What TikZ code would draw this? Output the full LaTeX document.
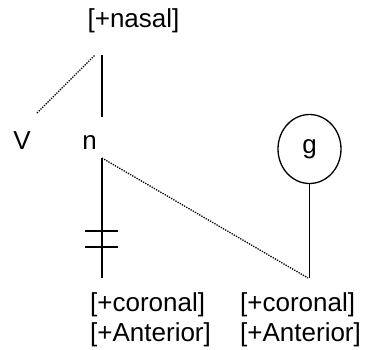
\documentclass[tikz,border=0pt]{standalone}
\usepackage{fontspec}
\setmainfont{Liberation Sans}
\usetikzlibrary{shapes.geometric}

\begin{document}
\begin{tikzpicture}[x=1pt,y=-1pt,
  seg/.style={inner sep=0pt,font=\fontsize{26}{30}\selectfont},
  assoc/.style={line width=1.7pt},
  spread/.style={line width=1.3pt,dash pattern=on 1.3pt off 1.2pt}]
\useasboundingbox (0,0) rectangle (367,349);
% features and segments
\node[seg,anchor=base] (nasal) at (133.5,27) {[+nasal]};
\node[seg,anchor=base] (v) at (22,149) {V};
\node[seg,anchor=base] (n) at (89.5,149) {n};
\node[seg,draw,ellipse,line width=1.3pt,minimum width=63pt,minimum height=69pt] (g) at (309.5,149) {g};
\node[seg,anchor=base west] (lcor) at (90,311) {[+coronal]};
\node[seg,anchor=base west] (lant) at (90,341) {[+Anterior]};
\node[seg,anchor=base west] (rcor) at (240,311) {[+coronal]};
\node[seg,anchor=base west] (rant) at (240,341) {[+Anterior]};
% attachment points
\coordinate (nastop) at (102,55);
\coordinate (nasbot) at (102,117);
\coordinate (vtop) at (37,113);
\coordinate (ntop) at (102,158);
\coordinate (nbot) at (102,278);
\coordinate (gbot) at (309.5,278);
% association lines
\draw[assoc] (nastop) -- (nasbot);
\draw[spread] (vtop) -- ([xshift=-7pt]nastop);
\draw[assoc] (ntop) -- (nbot);
\draw[assoc] (85,231) -- (118,231);
\draw[assoc] (85,247) -- (118,247);
\draw[assoc] (g) -- (gbot);
\draw[spread] (ntop) -- ([xshift=-1.5pt]gbot);
\end{tikzpicture}
\end{document}
